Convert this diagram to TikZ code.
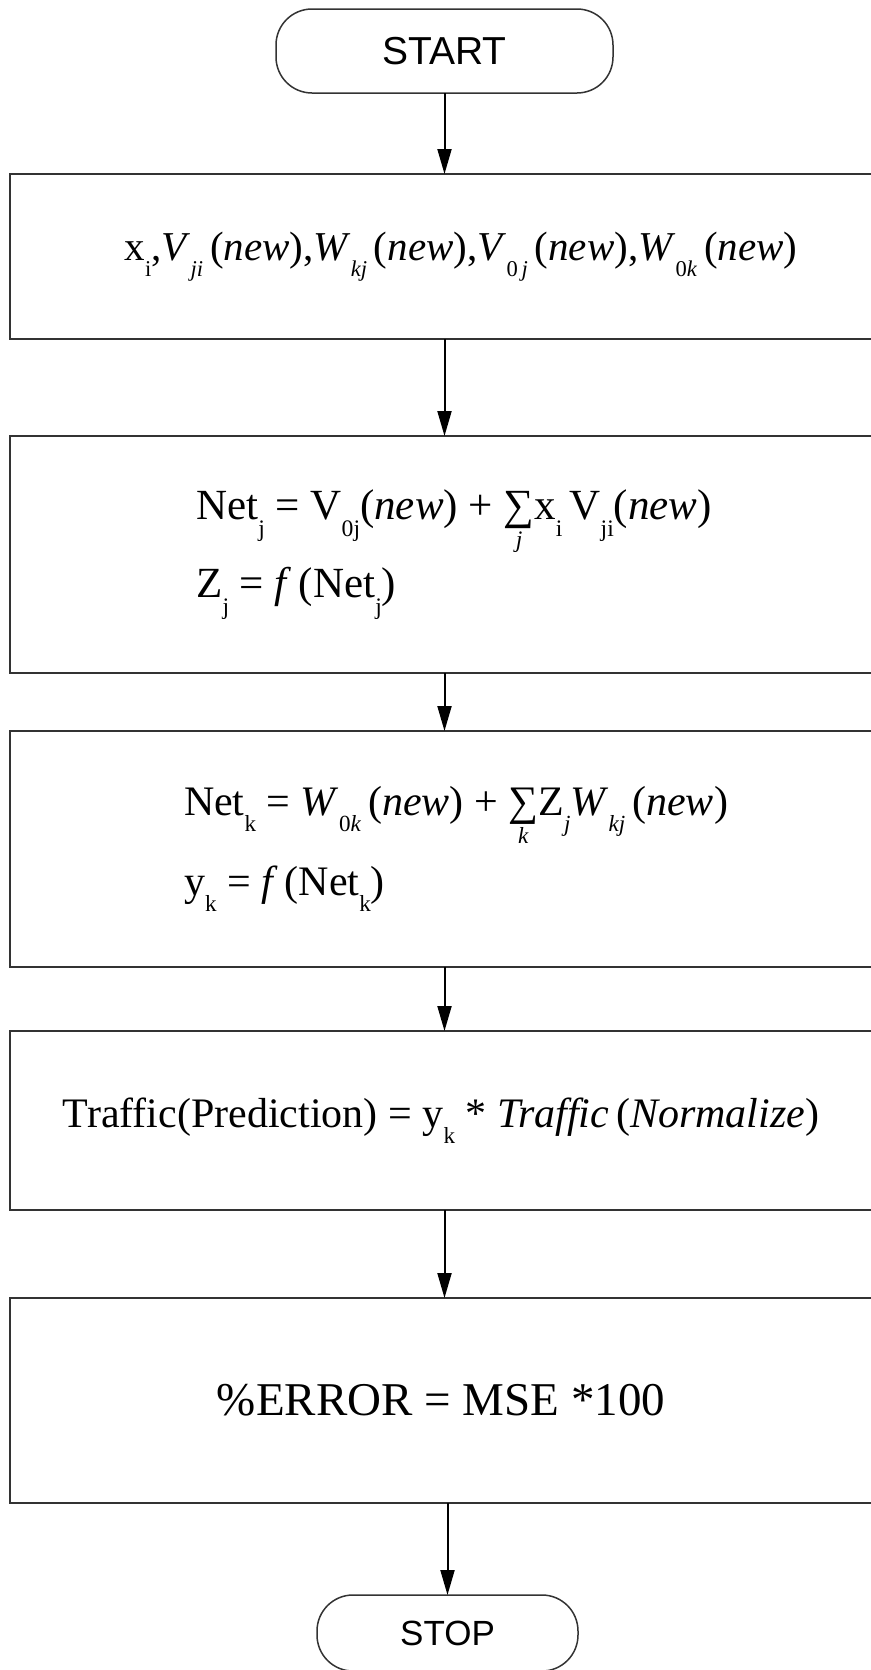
\documentclass[tikz,border=0pt]{standalone}
\usepackage{fontspec}
\setmainfont{Liberation Serif}
\setsansfont{Liberation Sans}
\usetikzlibrary{arrows.meta}

% low subscript as in the scanned formulas
\newcommand\lo[1]{\raisebox{-.38em}{\scalebox{.55}{#1}}}
\newcommand\sumlim[1]{$\mathop{\mbox{∑}}\limits_{\mbox{\scalebox{.55}{\textit{#1}}}}$}

\begin{document}
\begin{tikzpicture}[
  x=0.5pt, y=-0.5pt,
  >={Triangle[length=12.5pt,width=7pt]},
  terminal/.style={draw=black!80, line width=.75pt, rounded corners=18pt, inner sep=0pt, outer sep=0pt},
  stepbox/.style={draw=black!80, line width=.8pt, minimum width=431pt, inner sep=0pt, outer sep=0pt},
  flow/.style={draw=black, line width=1pt, ->}
]
\useasboundingbox (0,0) rectangle (871,1670);

\node[terminal, minimum width=168.5pt, minimum height=42pt, font=\sffamily\fontsize{19.5}{20}\selectfont] (start) at (444.5,51) {START};

\node[stepbox, minimum height=82.5pt, font=\fontsize{20.5}{24}\selectfont] (b1) at (441,256.5)
  {\hspace*{20pt}x\lo{i},\textit{V}\lo{\textit{ji}}\,(\textit{new}),\textit{W}\lo{\textit{kj}}\,(\textit{new}),\textit{V}\lo{0\,\textit{j}}\,(\textit{new}),\textit{W}\lo{0\textit{k}}\,(\textit{new})};

\node[stepbox, minimum height=118.5pt, align=left, font=\fontsize{21.5}{39}\selectfont] (b2) at (441,554.5)
  {\hspace*{13pt}Net\lo{j} = V\lo{0j}(\textit{new}) + \sumlim{j}x\lo{i}\,V\lo{ji}(\textit{new})\\
   \hspace*{13pt}Z\lo{j} = \textit{f}\,(Net\lo{j})};

\node[stepbox, minimum height=118pt, align=left, font=\fontsize{21}{40}\selectfont] (b3) at (441,849)
  {\hspace*{15pt}Net\lo{k} = \textit{W}\lo{0\textit{k}}\,(\textit{new}) + \sumlim{k}Z\lo{\textit{j}}\textit{W}\lo{\textit{kj}}\,(\textit{new})\\
   \hspace*{15pt}y\lo{k} = \textit{f}\,(Net\lo{k})};

\node[stepbox, minimum height=89.5pt, font=\fontsize{21}{24}\selectfont] (b4) at (441,1120.5)
  {Traffic(Prediction) = y\lo{k} * \textit{Traffic}\,(\textit{Normalize})};

\node[stepbox, minimum height=102.5pt, font=\fontsize{23.5}{26}\selectfont] (b5) at (441,1400.5)
  {\%ERROR = MSE *100};

\node[terminal, minimum width=130.5pt, minimum height=38pt, font=\sffamily\fontsize{17.5}{18}\selectfont] (stop) at (447.5,1633) {STOP};

\draw[flow] (start.south) -- (start.south |- b1.north);
\draw[flow] (b1.south -| start) -- (b2.north -| start);
\draw[flow] (b2.south -| start) -- (b3.north -| start);
\draw[flow] (b3.south -| start) -- (b4.north -| start);
\draw[flow] (b4.south -| start) -- (b5.north -| start);
\draw[flow] (b5.south -| stop) -- (stop.north);

\end{tikzpicture}
\end{document}
